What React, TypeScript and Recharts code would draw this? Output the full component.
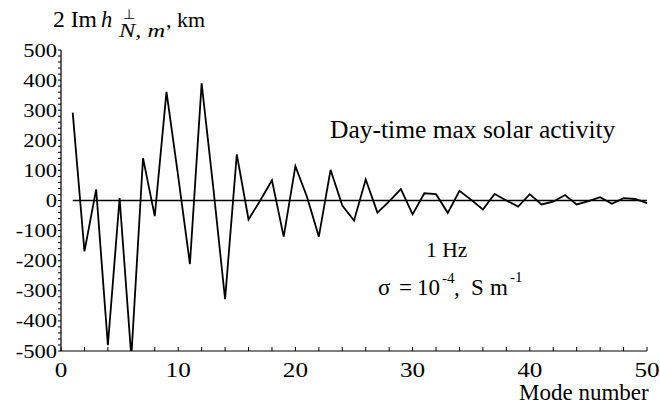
import { LineChart, Line, XAxis, YAxis, ReferenceLine } from "recharts";

// mode number vs 2 Im h (km)
const modes = [
  1, 2, 3, 4, 5, 6, 7, 8, 9, 10, 11, 12, 13, 14, 15, 16, 17, 18, 19, 20, 21, 22, 23, 24, 25,
  26, 27, 28, 29, 30, 31, 32, 33, 34, 35, 36, 37, 38, 39, 40, 41, 42, 43, 44, 45, 46, 47, 48, 49, 50,
];
const imH = [
  292, -169, 37, -481, 8, -520, 141, -52, 361, 80, -211, 389, 40, -328, 153, -63, 0, 67, -120, 114,
  11, -120, 102, -17, -67, 70, -40, -3, 38, -46, 24, 21, -41, 32, 2, -30, 22, 0, -20, 21,
  -13, -4, 18, -13, -2, 11, -11, 8, 5, -9,
];

const xLabels = [0, 10, 20, 30, 40, 50];
const xTickStep = 2;
const yLabels = [-500, -400, -300, -200, -100, 0, 100, 200, 300, 400, 500];
const yTickStep = 20;

const xTicks: number[] = [];
for (let v = 0; v <= 50; v += xTickStep) xTicks.push(v);
const yTicks: number[] = [];
for (let v = -500; v <= 500; v += yTickStep) yTicks.push(v);

const data = modes.map((m, i) => ({ mode: m, h: imH[i] }));

const FONT = '"Liberation Serif", "Times New Roman", serif';

const YTick = (props: any) => {
  const { x, y, payload } = props;
  const isLabel = yLabels.includes(payload.value);
  return (
    <g>
      <line x1={x - 3} x2={x} y1={y} y2={y} stroke="#000" strokeWidth={1} />
      {isLabel && (
        <text
          transform={`translate(${x - 4},${y + 6.5}) scale(1.22,1)`}
          textAnchor="end"
          fontSize={18.5}
          fontFamily={FONT}
          fill="#000"
        >
          {payload.value}
        </text>
      )}
    </g>
  );
};

const XTick = (props: any) => {
  const { x, y, payload } = props;
  const isLabel = xLabels.includes(payload.value);
  return (
    <g>
      <line x1={x} x2={x} y1={y} y2={y - 4} stroke="#000" strokeWidth={1} />
      {isLabel && (
        <text
          transform={`translate(${x},${y + 26}) scale(1.2,1)`}
          textAnchor="middle"
          fontSize={21}
          fontFamily={FONT}
          fill="#000"
        >
          {payload.value}
        </text>
      )}
    </g>
  );
};

export default function App() {
  return (
    <div style={{ position: "absolute", left: 0, top: 0, width: 660, height: 411, background: "#fff" }}>
      <LineChart width={660} height={411} data={data} margin={{ top: 50, right: 13, left: 0, bottom: 0 }}>
        <XAxis
          dataKey="mode"
          type="number"
          domain={[0, 50]}
          ticks={xTicks}
          interval={0}
          height={60}
          tickSize={0}
          tickMargin={0}
          tickLine={false}
          axisLine={{ stroke: "#000", strokeWidth: 1.2 }}
          tick={<XTick />}
        />
        <YAxis
          type="number"
          domain={[-500, 500]}
          allowDataOverflow
          ticks={yTicks}
          interval={0}
          width={61}
          tickSize={0}
          tickMargin={0}
          tickLine={false}
          axisLine={{ stroke: "#000", strokeWidth: 1.2 }}
          tick={<YTick />}
        />
        <ReferenceLine
          segment={[{ x: 1, y: 0 }, { x: 50, y: 0 }]}
          stroke="#000"
          strokeWidth={1.3}
          ifOverflow="visible"
        />
        <Line
          type="linear"
          dataKey="h"
          stroke="#000"
          strokeWidth={1.8}
          dot={false}
          isAnimationActive={false}
        />
      </LineChart>
      <svg
        width={660}
        height={411}
        style={{ position: "absolute", left: 0, top: 0, pointerEvents: "none" }}
        fontFamily={FONT}
        fill="#000"
      >
        <text x={53} y={27} fontSize={22.5} textLength={44} lengthAdjust="spacingAndGlyphs">2 Im</text>
        <text x={101} y={27} fontSize={22.5} fontStyle="italic">h</text>
        <text x={123} y={19} fontSize={14}>⊥</text>
        <text x={119} y={37} fontSize={18.5} fontStyle="italic" textLength={46} lengthAdjust="spacingAndGlyphs">N, m</text>
        <text x={166} y={27} fontSize={22}>, km</text>

        <text x={330} y={138} fontSize={25.5}>Day-time max solar activity</text>
        <text x={426} y={257} fontSize={21.5}>1 Hz</text>

        <text x={378} y={295} fontSize={23}>σ</text>
        <text x={399} y={295} fontSize={23}>=</text>
        <text x={417} y={295} fontSize={23}>10</text>
        <text x={442} y={283} fontSize={15}>-4</text>
        <text x={454} y={295} fontSize={23}>,</text>
        <text x={471} y={295} fontSize={23}>S</text>
        <text x={490} y={295} fontSize={23}>m</text>
        <text x={510} y={282} fontSize={15}>-1</text>

        <text x={519} y={400} fontSize={23}>Mode number</text>
      </svg>
    </div>
  );
}
